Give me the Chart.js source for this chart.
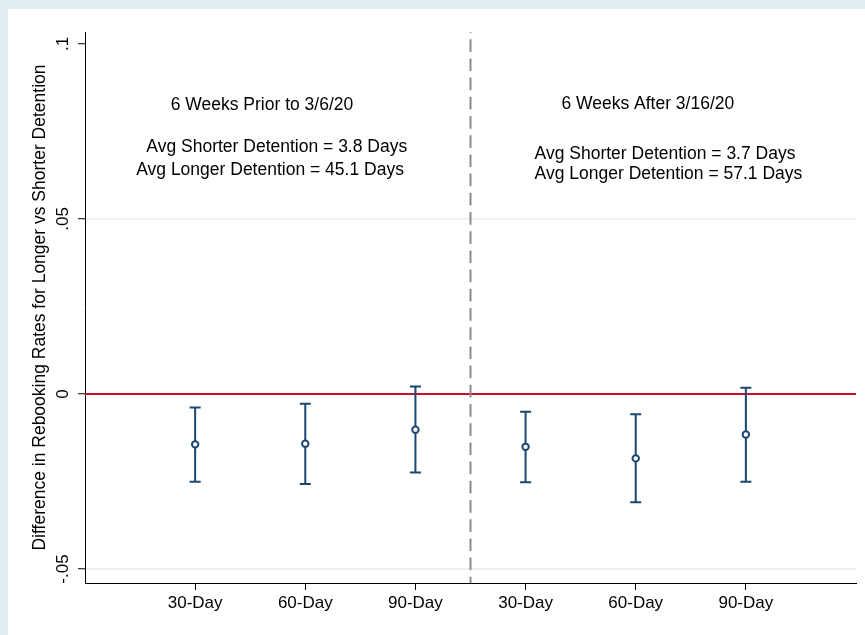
<!DOCTYPE html>
<html>
<head>
<meta charset="utf-8">
<script src="https://cdn.jsdelivr.net/npm/chart.js@4.4.1/dist/chart.umd.min.js"></script>
<style>
html, body { margin: 0; padding: 0; background: #e0eef2; }
canvas { display: block; }
</style>
</head>
<body>
<canvas id="chart" width="865" height="635"></canvas>
<script>
"use strict"

// coefficient plot: longer vs shorter detention, before / after the March 2020 break
const categories = ['30-Day', '60-Day', '90-Day', '30-Day', '60-Day', '90-Day']
const positions = [1, 2, 3, 4, 5, 6]
const estimates = [-0.0144, -0.0142, -0.0102, -0.0151, -0.0184, -0.0116]
const ciLow = [-0.0251, -0.0257, -0.0224, -0.0252, -0.0309, -0.0251]
const ciHigh = [-0.0039, -0.0028, 0.0021, -0.0051, -0.0058, 0.0018]

const yTickValues = [-0.05, 0, 0.05, 0.1]
const yTickLabels = ['-.05', '0', '.05', '.1']
const periodBreak = 3.5

const noteTexts = [
    '6 Weeks Prior to 3/6/20',
    'Avg Shorter Detention = 3.8 Days',
    'Avg Longer Detention = 45.1 Days',
    '6 Weeks After 3/16/20',
    'Avg Shorter Detention = 3.7 Days',
    'Avg Longer Detention = 57.1 Days'
]
const noteX = [1.607, 1.741, 1.680, 5.110, 5.266, 5.297]
const noteY = [0.0811, 0.0692, 0.0626, 0.0813, 0.0671, 0.0615]

const navy = '#1a476f'
const crimson = '#c8102e'
const fontFamily = '"Liberation Sans", Arial, Helvetica, sans-serif'

const decor = {
    id: 'decor',
    beforeDraw: (chart) => {
        const ctx = chart.ctx
        ctx.save()
        ctx.fillStyle = '#e0eef2'
        ctx.fillRect(0, 0, chart.width, chart.height)
        ctx.fillStyle = '#ffffff'
        ctx.fillRect(8, 9, chart.width - 8, chart.height - 9)
        ctx.restore()
    },
    beforeDatasetsDraw: (chart) => {
        const ctx = chart.ctx
        const x = chart.scales.x
        const y = chart.scales.y
        const area = chart.chartArea
        ctx.save()

        // zero line
        const y0 = y.getPixelForValue(0)
        ctx.strokeStyle = crimson
        ctx.lineWidth = 2
        ctx.beginPath()
        ctx.moveTo(area.left, y0)
        ctx.lineTo(area.right, y0)
        ctx.stroke()

        // break between the two periods
        const xb = x.getPixelForValue(periodBreak)
        ctx.strokeStyle = '#8c8c8c'
        ctx.lineWidth = 2
        ctx.setLineDash([12.7, 6.5])
        ctx.lineDashOffset = 12
        ctx.beginPath()
        ctx.moveTo(xb, area.top)
        ctx.lineTo(xb, area.bottom)
        ctx.stroke()
        ctx.setLineDash([])

        // confidence intervals
        ctx.strokeStyle = navy
        ctx.lineWidth = 2
        positions.forEach((p, i) => {
            const px = x.getPixelForValue(p)
            const lo = y.getPixelForValue(ciLow[i])
            const hi = y.getPixelForValue(ciHigh[i])
            ctx.beginPath()
            ctx.moveTo(px, lo)
            ctx.lineTo(px, hi)
            ctx.moveTo(px - 5.5, lo)
            ctx.lineTo(px + 5.5, lo)
            ctx.moveTo(px - 5.5, hi)
            ctx.lineTo(px + 5.5, hi)
            ctx.stroke()
        })
        ctx.restore()
    },
    afterDatasetsDraw: (chart) => {
        const ctx = chart.ctx
        const x = chart.scales.x
        const y = chart.scales.y
        ctx.save()
        ctx.fillStyle = '#000'
        ctx.font = '17.5px ' + fontFamily
        ctx.textAlign = 'center'
        ctx.textBaseline = 'alphabetic'
        noteTexts.forEach((t, i) => {
            ctx.fillText(t, x.getPixelForValue(noteX[i]), y.getPixelForValue(noteY[i]))
        })
        ctx.restore()
    }
}

new Chart(document.getElementById('chart'), {
    type: 'scatter',
    data: {
        datasets: [{
            label: 'Estimate',
            data: positions.map((p, i) => ({ x: p, y: estimates[i] })),
            pointRadius: 3.2,
            pointHoverRadius: 3.2,
            pointBorderWidth: 2,
            borderColor: navy,
            backgroundColor: '#ffffff',
            showLine: false
        }]
    },
    options: {
        responsive: false,
        animation: false,
        devicePixelRatio: 1,
        layout: { padding: { left: 8, top: 32, right: 9, bottom: 0 } },
        plugins: {
            legend: { display: false },
            tooltip: { enabled: false }
        },
        scales: {
            x: {
                type: 'linear',
                min: 0,
                max: 7,
                afterBuildTicks: (axis) => {
                    axis.ticks = positions.map(v => ({ value: v }))
                },
                afterFit: (s) => { s.height = 52 },
                ticks: {
                    autoSkip: false,
                    maxRotation: 0,
                    padding: 3,
                    color: '#000',
                    font: { family: fontFamily, size: 17 },
                    callback: (value, index) => categories[index]
                },
                grid: {
                    drawOnChartArea: false,
                    tickLength: 7,
                    tickColor: '#000',
                    tickWidth: 1
                },
                border: { display: true, color: '#000', width: 1 }
            },
            y: {
                type: 'linear',
                min: -0.054,
                max: 0.1034,
                afterBuildTicks: (axis) => {
                    axis.ticks = yTickValues.map(v => ({ value: v }))
                },
                afterFit: (s) => { s.width = 77 },
                ticks: {
                    minRotation: 90,
                    maxRotation: 90,
                    crossAlign: 'center',
                    padding: 0,
                    color: '#000',
                    font: { family: fontFamily, size: 17 },
                    callback: (value, index) => yTickLabels[index]
                },
                title: {
                    display: true,
                    text: 'Difference in Rebooking Rates for Longer vs Shorter Detention',
                    color: '#000',
                    font: { family: fontFamily, size: 17.5 },
                    padding: { top: 22, bottom: 0 }
                },
                grid: {
                    color: (c) => (c.tick && (c.tick.value === 0.05 || c.tick.value === -0.05)) ? '#e8eff2' : 'rgba(0,0,0,0)',
                    lineWidth: 1.5,
                    tickLength: 7,
                    tickColor: '#000',
                    tickWidth: 1
                },
                border: { display: true, color: '#000', width: 1 }
            }
        }
    },
    plugins: [decor]
})
</script>
</body>
</html>
